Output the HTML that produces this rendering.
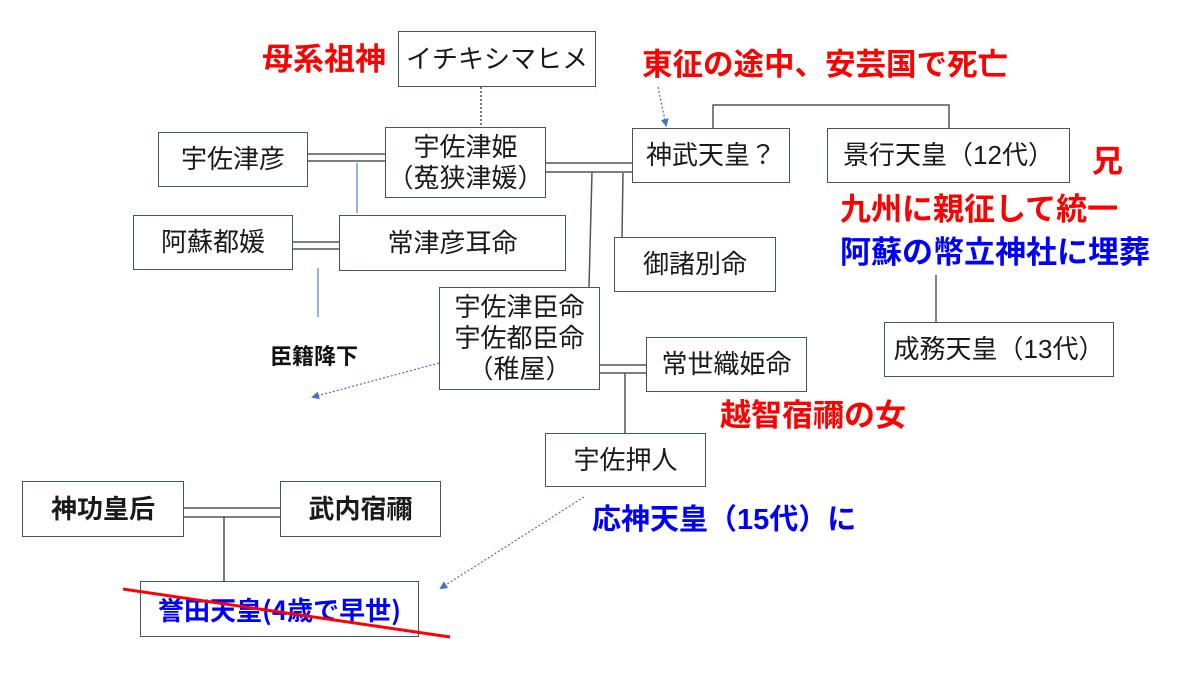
<!DOCTYPE html>
<html><head><meta charset="utf-8">
<style>
html,body{margin:0;padding:0;background:#fff;}
#c{position:relative;width:1200px;height:677px;overflow:hidden;background:#fff;font-family:"Liberation Sans","Noto Sans CJK JP",sans-serif;}
.b{position:absolute;box-sizing:border-box;border:1.5px solid #44546a;background:#fff;display:flex;align-items:center;justify-content:center;text-align:center;font-size:26px;line-height:31px;color:#1a1a1a;white-space:nowrap;}
.l{position:absolute;font-weight:bold;line-height:1;white-space:nowrap;}
.r{color:#ff0000;font-size:31px;}
.bl{color:#0000ff;}
svg{position:absolute;left:0;top:0;}
</style></head><body><div id="c">
<svg width="1200" height="677" viewBox="0 0 1200 677">
<defs>
<marker id="ah" markerWidth="8" markerHeight="8" refX="6" refY="4" orient="auto" markerUnits="userSpaceOnUse">
<path d="M0,0 L8,4 L0,8 z" fill="#4472c4"/>
</marker>
</defs>
<g stroke="#333" stroke-width="1.3" fill="none">
<line x1="481" y1="87" x2="481" y2="127" stroke-dasharray="2 2"/>
<line x1="308" y1="154" x2="385" y2="154"/>
<line x1="308" y1="161" x2="385" y2="161"/>
<line x1="546" y1="163" x2="632" y2="163"/>
<line x1="546" y1="172" x2="635" y2="172"/>
<line x1="293" y1="242" x2="339" y2="242"/>
<line x1="293" y1="249" x2="339" y2="249"/>
<line x1="600" y1="365" x2="646" y2="365"/>
<line x1="600" y1="373" x2="646" y2="373"/>
<line x1="184" y1="508" x2="280" y2="508"/>
<line x1="184" y1="517" x2="280" y2="517"/>
<line x1="224" y1="517" x2="224" y2="581"/>
</g>
<g stroke="#555" stroke-width="1.5" fill="none">
<line x1="592" y1="172" x2="589" y2="287"/>
<line x1="623" y1="173" x2="622" y2="237"/>
<polyline points="713,128 713,105 949,105 949,128"/>
<line x1="936" y1="275" x2="936" y2="322"/>
<line x1="625" y1="373" x2="625" y2="433"/>
</g>
<g stroke="#4472c4" stroke-width="1.1" fill="none">
<line x1="357" y1="163" x2="357" y2="213"/>
<line x1="318" y1="268" x2="318" y2="317"/>
</g>
<g stroke="#4472c4" stroke-width="1.2" fill="none" stroke-dasharray="2 2">
<line x1="658" y1="87" x2="666" y2="125" marker-end="url(#ah)"/>
<line x1="439" y1="363" x2="313" y2="397" marker-end="url(#ah)"/>
<line x1="584" y1="497" x2="441" y2="588" marker-end="url(#ah)"/>
</g>
</svg>

<div class="b" style="left:398px;top:31px;width:198px;height:56px;">イチキシマヒメ</div>
<div class="b" style="left:158px;top:132px;width:150px;height:55px;">宇佐津彦</div>
<div class="b" style="left:385px;top:127px;width:161px;height:71px;">宇佐津姫<br>（菟狭津媛）</div>
<div class="b" style="left:133px;top:215px;width:160px;height:55px;">阿蘇都媛</div>
<div class="b" style="left:339px;top:215px;width:227px;height:56px;">常津彦耳命</div>
<div class="b" style="left:632px;top:128px;width:158px;height:55px;">神武天皇？</div>
<div class="b" style="left:827px;top:128px;width:243px;height:55px;">景行天皇（12代）</div>
<div class="b" style="left:614px;top:237px;width:162px;height:55px;">御諸別命</div>
<div class="b" style="left:884px;top:322px;width:230px;height:55px;">成務天皇（13代）</div>
<div class="b" style="left:439px;top:287px;width:161px;height:103px;">宇佐津臣命<br>宇佐都臣命<br>（稚屋）</div>
<div class="b" style="left:646px;top:337px;width:161px;height:55px;">常世織姫命</div>
<div class="b" style="left:545px;top:433px;width:161px;height:54px;">宇佐押人</div>
<div class="b" style="left:22px;top:481px;width:162px;height:56px;font-weight:bold;">神功皇后</div>
<div class="b" style="left:280px;top:481px;width:161px;height:56px;font-weight:bold;">武内宿禰</div>
<div class="b" style="left:140px;top:581px;width:279px;height:56px;color:#0000ff;font-weight:bold;font-size:26px;font-family:'Noto Sans CJK JP','Liberation Sans',sans-serif;">誉田天皇(4歳で早世)</div>

<div class="l r" style="left:262px;top:44px;">母系祖神</div>
<div class="l r" style="left:642px;top:50px;font-size:30.5px;">東征の途中、安芸国で死亡</div>
<div class="l r" style="left:1092px;top:146px;">兄</div>
<div class="l r" style="left:840px;top:194px;">九州に親征して統一</div>
<div class="l bl" style="left:840px;top:237px;font-size:31px;">阿蘇の幣立神社に埋葬</div>
<div class="l r" style="left:720px;top:400px;">越智宿禰の女</div>
<div class="l bl" style="left:592px;top:506px;font-size:29px;">応神天皇（15代）に</div>
<div class="l" style="left:270px;top:346px;font-size:22px;color:#111;">臣籍降下</div>

<svg width="1200" height="677" viewBox="0 0 1200 677" style="pointer-events:none">
<line x1="123" y1="589" x2="450" y2="637" stroke="#ff0000" stroke-width="3"/>
</svg>
</div></body></html>
